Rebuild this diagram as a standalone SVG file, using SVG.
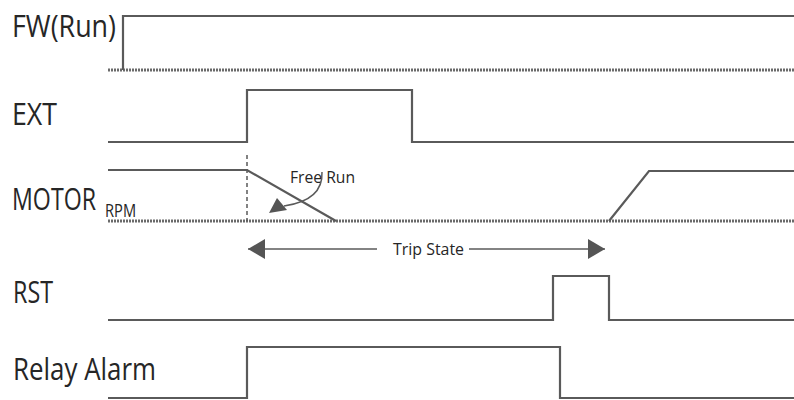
<svg xmlns="http://www.w3.org/2000/svg" width="794" height="400" viewBox="0 0 794 400">
<style>
.bg{fill:#ffffff}
.lbl{font-family:"Open Sans","Liberation Sans",sans-serif;font-size:31px;fill:#262626}
.sub{font-family:"Open Sans","Liberation Sans",sans-serif;font-size:18px;fill:#262626}
.note{font-family:"Open Sans","Liberation Sans",sans-serif;font-size:16px;fill:#262626}
.sig{fill:none;stroke:#5a5a5a;stroke-width:2.2}
.dot{fill:none;stroke:#6a6a6a;stroke-width:3;stroke-dasharray:2 1}
.dash{fill:none;stroke:#5a5a5a;stroke-width:1.5;stroke-dasharray:4 3}
.arr{fill:none;stroke:#5a5a5a;stroke-width:1.5}
.head{fill:#555555}
</style>
<defs>
<marker id="ah" viewBox="0 0 17 20" refX="17" refY="10" markerWidth="17" markerHeight="20" markerUnits="userSpaceOnUse" orient="auto-start-reverse">
<path d="M0,0 L17,10 L0,20 Z" class="head"/>
</marker>
</defs>
<rect class="bg" x="0" y="0" width="794" height="400"/>
<g id="fw">
<text class="lbl" x="12" y="37" textLength="104" lengthAdjust="spacingAndGlyphs">FW(Run)</text>
<path class="dot" d="M108,70 H794"/>
<path class="sig" d="M123,70 V16 H794"/>
</g>
<g id="ext">
<text class="lbl" x="12" y="125" textLength="45" lengthAdjust="spacingAndGlyphs">EXT</text>
<path class="sig" d="M108,142 H247 V90 H412 V142 H794"/>
</g>
<g id="motor">
<text class="lbl" transform="translate(12,210) scale(0.7467,1)" x="0" y="0" textLength="112.5" lengthAdjust="spacingAndGlyphs">MOTOR</text>
<text class="sub" transform="translate(105,217) scale(0.84,1)" x="0" y="0" textLength="37" lengthAdjust="spacingAndGlyphs">RPM</text>
<path class="dot" d="M108,221 H794"/>
<path class="dash" d="M247,155 V221"/>
<path class="sig" d="M108,170 H247 L336,221"/>
<path class="sig" d="M609,221 L649,171 H794"/>
</g>
<g id="freerun">
<text class="note" x="290" y="183" textLength="65" lengthAdjust="spacingAndGlyphs">Free Run</text>
<path class="arr" d="M322,172 C323,194 305,203 284,206"/>
<polygon class="head" points="269,213 277,198 287,210"/>
</g>
<g id="tripstate">
<text class="note" x="393" y="255" textLength="71" lengthAdjust="spacingAndGlyphs">Trip State</text>
</g>
<g id="rst">
<text class="lbl" x="13" y="303" textLength="40" lengthAdjust="spacingAndGlyphs">RST</text>
<path class="sig" d="M108,320 H553 V276 H609 V320 H794"/>
</g>
<g id="relay">
<text class="lbl" x="13" y="380" textLength="143" lengthAdjust="spacingAndGlyphs">Relay Alarm</text>
<path class="sig" d="M108,398 H247 V347 H560 V398 H794"/>
</g>
<g id="connectors">
<path class="arr" d="M377,249 H248" marker-end="url(#ah)"/>
<path class="arr" d="M469,249 H605" marker-end="url(#ah)"/>
</g>
</svg>
